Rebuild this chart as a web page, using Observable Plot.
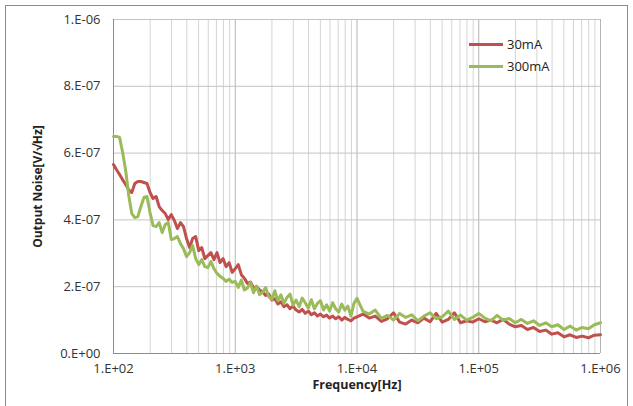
<!DOCTYPE html>
<html><head><meta charset="utf-8">
<script src="https://cdn.jsdelivr.net/npm/d3@7"></script>
<script src="https://cdn.jsdelivr.net/npm/@observablehq/plot@0.6"></script>
<style>
body{margin:0;background:#fff;}
#wrap{position:relative;width:633px;height:406px;overflow:hidden;font-family:"Open Sans",sans-serif;}
#border{position:absolute;left:5px;top:5px;width:623px;height:430px;border:1px solid #8c8c8c;box-sizing:border-box;}
#chart{position:absolute;left:0;top:0;}
.leg{position:absolute;left:469px;font-size:13px;color:#222;display:flex;align-items:center;height:16px;}
.leg span.l{display:inline-block;width:34px;height:3px;margin-right:4px;}
</style></head>
<body>
<div id="wrap">
  <div id="border"></div>
  <div id="chart"></div>
  <div class="leg" style="top:36px"><span class="l" style="background:#C0504D"></span>30mA</div>
  <div class="leg" style="top:58px"><span class="l" style="background:#9BBB59"></span>300mA</div>
</div>
<script>
// Frequencies [Hz]
const freq = [100,105.9,112.2,118.9,125.9,133.4,141.3,149.6,158.5,167.9,177.8,188.4,199.5,211.3,223.9,237.1,251.2,266.1,281.8,298.5,316.2,335,354.8,375.8,398.1,421.7,446.7,473.2,501.2,530.9,562.3,595.7,631,668.3,707.9,749.9,794.3,841.4,891.3,944.1,1000,
1059,1122,1189,1259,1334,1413,1496,1585,1679,1778,1884,1995,2113,2239,2371,2512,2661,2818,2985,3162,3350,3548,3758,3981,4217,4467,4732,5012,5309,5623,5957,6310,6683,7079,7499,7943,8414,8913,9441,10000,
11220,12589,14125,15849,17783,19953,22387,25119,28184,31623,35481,39811,44668,50119,56234,63096,70795,79433,89125,100000,112202,125893,141254,158489,177828,199526,223872,251189,281838,316228,354813,398107,446684,501187,562341,630957,707946,794328,891251,1000000];

// Output noise, in units of 1e-7 V/sqrt(Hz)
const noise30mA = [5.66,5.5,5.36,5.2,5.06,4.9,4.82,5.09,5.15,5.15,5.12,5.09,4.82,4.64,4.7,4.4,4.28,4.19,4.01,4.16,3.98,3.74,3.92,3.8,3.44,3.17,3.44,3.5,3.08,3.17,2.84,2.93,3.02,2.81,3.02,2.72,2.84,2.6,2.72,2.43,2.54,
2.66,2.36,2.25,2.1,2.14,1.96,2.0,1.9,1.84,1.74,1.78,1.6,1.64,1.48,1.55,1.4,1.46,1.34,1.42,1.3,1.24,1.32,1.2,1.27,1.16,1.22,1.12,1.18,1.1,1.15,1.06,1.12,1.04,1.1,1.0,1.08,1.02,0.98,1.06,1.1,
1.18,1.06,1.12,0.96,1.04,1.22,0.94,0.88,1.0,0.92,1.06,0.95,1.2,0.94,1.02,1.22,0.92,0.98,0.94,1.04,0.95,1.0,0.92,1.02,0.88,0.8,0.84,0.72,0.78,0.66,0.7,0.58,0.62,0.5,0.56,0.48,0.52,0.47,0.55,0.56];

const noise300mA = [6.5,6.5,6.47,6.02,5.48,4.73,4.19,4.07,4.1,4.4,4.67,4.7,4.22,3.83,3.8,3.92,3.62,3.86,3.92,3.41,3.44,3.5,3.29,3.14,2.9,3.02,3.23,2.84,2.66,2.81,2.6,2.57,2.75,2.54,2.4,2.31,2.25,2.16,2.22,2.13,2.16,
1.98,2.2,1.9,1.96,2.12,1.82,2.02,1.76,1.84,1.97,1.7,1.62,1.88,1.58,1.76,1.5,1.68,1.78,1.45,1.6,1.4,1.66,1.52,1.36,1.61,1.34,1.5,1.58,1.3,1.46,1.27,1.52,1.34,1.24,1.48,1.3,1.42,1.12,1.5,1.65,
1.26,1.18,1.3,1.05,1.14,1.0,1.2,1.08,1.16,0.98,1.12,1.22,1.04,1.1,1.27,1.02,1.15,1.0,1.08,1.2,1.06,0.98,1.14,1.0,1.05,0.92,1.02,0.9,0.98,0.84,0.92,0.8,0.86,0.72,0.82,0.7,0.78,0.74,0.86,0.92];

const UNIT = 1e-7;
const xTicks = [1e2, 1e3, 1e4, 1e5, 1e6];
const xTickLabels = ["1.E+02", "1.E+03", "1.E+04", "1.E+05", "1.E+06"];
const yTicks = [0, 2e-7, 4e-7, 6e-7, 8e-7, 1e-6];
const yTickLabels = ["0.E+00", "2.E-07", "4.E-07", "6.E-07", "8.E-07", "1.E-06"];
const seriesNames = ["30mA", "300mA"];
const seriesColors = ["#C0504D", "#9BBB59"];

const minorFreqs = [];
for (const d of [1e2, 1e3, 1e4, 1e5]) for (let m = 2; m <= 9; m++) minorFreqs.push(d * m);

const d30 = freq.map((f, i) => ({f, v: noise30mA[i] * UNIT}));
const d300 = freq.map((f, i) => ({f, v: noise300mA[i] * UNIT}));

const chart = Plot.plot({
  width: 633, height: 406,
  marginLeft: 113, marginRight: 33, marginTop: 19, marginBottom: 53,
  style: {fontFamily: "'Open Sans', sans-serif", fontSize: "13px", color: "#333", background: "transparent"},
  x: {type: "log", domain: [1e2, 1e6], axis: null},
  y: {domain: [0, 1e-6], axis: null},
  marks: [
    Plot.ruleX(minorFreqs, {stroke: "#d4d4d4", strokeWidth: 1}),
    Plot.ruleX(xTicks.slice(1), {stroke: "#b4b4b4", strokeWidth: 1}),
    Plot.ruleY(yTicks.slice(1), {stroke: "#c4c4c4", strokeWidth: 1}),
    Plot.ruleX([1e2], {stroke: "#8c8c8c", strokeWidth: 1}),
    Plot.ruleY([0], {stroke: "#8c8c8c", strokeWidth: 1}),
    Plot.line(d30, {x: "f", y: "v", stroke: seriesColors[0], strokeWidth: 3, strokeLinejoin: "round"}),
    Plot.line(d300, {x: "f", y: "v", stroke: seriesColors[1], strokeWidth: 3, strokeLinejoin: "round"}),
    Plot.axisX(xTicks, {tickFormat: d => xTickLabels[xTicks.indexOf(d)], tickSize: 0, tickPadding: 10, fontSize: 13, label: null}),
    Plot.axisY(yTicks, {tickFormat: d => yTickLabels[yTicks.indexOf(d)], tickSize: 0, tickPadding: 13, fontSize: 13, label: null}),
    Plot.text(["Frequency[Hz]"], {frameAnchor: "bottom", dy: 35, fontWeight: "bold", fontSize: 12.5, fill: "#222"}),
    Plot.text(["Output Noise[V/√Hz]"], {frameAnchor: "left", textAnchor: "middle", dx: -75, rotate: -90, fontWeight: "bold", fontSize: 12, fill: "#222"})
  ]
});
document.getElementById("chart").appendChild(chart);
</script>
</body></html>
